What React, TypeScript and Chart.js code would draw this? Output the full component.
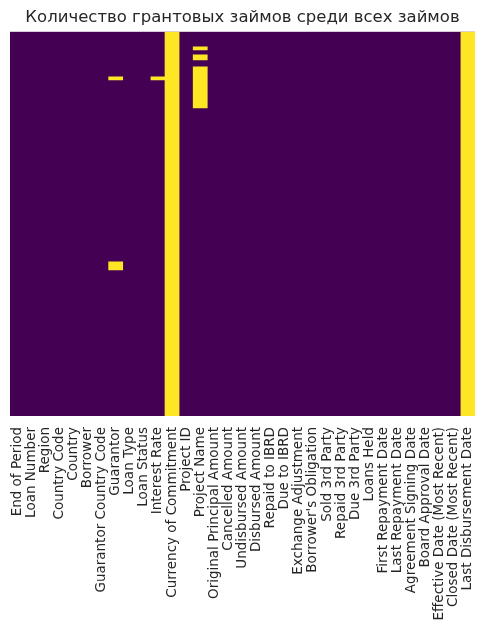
import React, { useEffect, useRef } from "react";
import { Chart, registerables } from "chart.js";

Chart.register(...registerables);

const columns: string[] = [
  "End of Period",
  "Loan Number",
  "Region",
  "Country Code",
  "Country",
  "Borrower",
  "Guarantor Country Code",
  "Guarantor",
  "Loan Type",
  "Loan Status",
  "Interest Rate",
  "Currency of Commitment",
  "Project ID",
  "Project Name",
  "Original Principal Amount",
  "Cancelled Amount",
  "Undisbursed Amount",
  "Disbursed Amount",
  "Repaid to IBRD",
  "Due to IBRD",
  "Exchange Adjustment",
  "Borrower's Obligation",
  "Sold 3rd Party",
  "Repaid 3rd Party",
  "Due 3rd Party",
  "Loans Held",
  "First Repayment Date",
  "Last Repayment Date",
  "Agreement Signing Date",
  "Board Approval Date",
  "Effective Date (Most Recent)",
  "Closed Date (Most Recent)",
  "Last Disbursement Date",
];

const totalRows = 1000;

// missing-value runs (row start, row end) per column
const missingRuns: [string, number, number][] = [
  ["Currency of Commitment", 0, 1000],
  ["Last Disbursement Date", 0, 1000],
  ["Guarantor", 117, 125],
  ["Guarantor", 599, 620],
  ["Interest Rate", 117, 125],
  ["Project Name", 39, 47],
  ["Project Name", 60, 73],
  ["Project Name", 91, 198],
];

const PURPLE = "#440154";
const YELLOW = "#fde725";

const bgPlugin = {
  id: "heatBg",
  beforeDatasetsDraw(chart: any) {
    const { ctx, chartArea } = chart;
    ctx.save();
    ctx.fillStyle = PURPLE;
    ctx.fillRect(chartArea.left, chartArea.top, chartArea.right - chartArea.left, chartArea.bottom - chartArea.top);
    ctx.restore();
  },
};

export default function App() {
  const ref = useRef<HTMLCanvasElement | null>(null);

  useEffect(() => {
    if (!ref.current) return;
    const layers: ([number, number] | null)[][] = [];
    const counts: Record<string, number> = {};
    missingRuns.forEach(([col, a, b]) => {
      const k = counts[col] || 0;
      counts[col] = k + 1;
      while (layers.length <= k) layers.push(columns.map(() => null));
      layers[k][columns.indexOf(col)] = [a, b];
    });

    const datasets: any[] = layers.map((l) => ({
      data: l,
      backgroundColor: YELLOW,
      borderWidth: 0,
      borderSkipped: false,
      barPercentage: 1,
      categoryPercentage: 1,
    }));

    const chart = new Chart(ref.current, {
      type: "bar",
      data: { labels: columns, datasets },
      plugins: [bgPlugin],
      options: {
        animation: false,
        responsive: true,
        maintainAspectRatio: false,
        layout: { padding: { left: 10, right: 9, top: 0, bottom: 0 } },
        plugins: {
          legend: { display: false },
          tooltip: { enabled: false },
          title: {
            display: true,
            text: "Количество грантовых займов среди всех займов",
            color: "#262626",
            font: { family: "DejaVu Sans", size: 16.5, weight: "normal" },
            padding: { top: 8, bottom: 4 },
          },
        },
        scales: {
          x: {
            stacked: true,
            grid: { display: false, drawTicks: false },
            border: { display: false },
            ticks: {
              autoSkip: false,
              maxRotation: 90,
              minRotation: 90,
              padding: 11,
              color: "#262626",
              font: { family: "DejaVu Sans", size: 13.5 },
            },
            afterFit: (scale: any) => {
              scale.height = 220;
              scale.paddingLeft = 0;
              scale.paddingRight = 0;
            },
          },
          y: {
            display: false,
            min: 0,
            max: totalRows,
            reverse: true,
            stacked: false,
          },
        },
      },
    });
    return () => chart.destroy();
  }, []);

  return (
    <div style={{ position: "fixed", left: 0, top: 0, width: 484, height: 636, background: "#fff" }}>
      <canvas ref={ref} />
    </div>
  );
}
